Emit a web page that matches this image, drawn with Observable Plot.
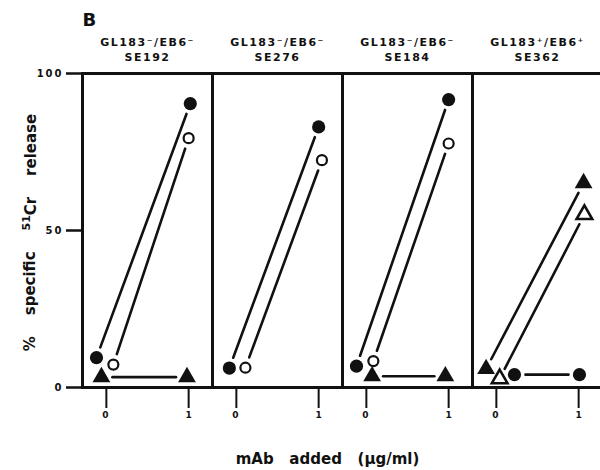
<!DOCTYPE html>
<html>
<head>
<meta charset="utf-8">
<script src="https://cdn.jsdelivr.net/npm/d3@7"></script>
<script src="https://cdn.jsdelivr.net/npm/@observablehq/plot@0.6"></script>
<style>
html, body { margin: 0; padding: 0; background: #fff; overflow: hidden; width: 600px; height: 470px; }
#chart svg { max-width: none !important; }
</style>
</head>
<body>
<div id="chart"></div>
<script>
// ---- data ----
const panelTitle = "B";
const panels = ["SE192", "SE276", "SE184", "SE362"];
const phenotypes = ["GL183⁻/EB6⁻", "GL183⁻/EB6⁻", "GL183⁻/EB6⁻", "GL183⁺/EB6⁺"];
const doseTicks = [0, 1];
const yTicks = [0, 50, 100];
const yLabelParts = ["%\u00a0\u00a0\u00a0\u00a0specific\u00a0\u00a0\u00a0\u00a0", "51", "Cr\u00a0\u00a0\u00a0\u00a0release"];
const xLabel = "mAb\u00a0\u00a0\u00a0added\u00a0\u00a0\u00a0(µg/ml)";

// % specific 51Cr release at mAb 0 and 1 µg/ml, one pair per panel (null = not tested)
const closedCircle   = [[9.5, 90.4], [6.2, 83.0], [6.8, 91.7], [4.1, 4.1]];
const openCircle     = [[7.3, 79.4], [6.3, 72.4], [8.4, 77.7], null];
const closedTriangle = [[3.3, 3.3], null, [3.6, 3.6], [5.9, 65.1]];
const openTriangle   = [null, null, null, [2.8, 55.1]];

// where each point sits along the dose axis as drawn (symbols are nudged apart)
const closedCircleX   = [[-0.12, 1.02], [-0.085, 1.0], [-0.12, 1.0], [0.22, 1.01]];
const openCircleX     = [[0.085, 1.0], [0.11, 1.04], [0.085, 1.0], null];
const closedTriangleX = [[-0.06, 0.98], null, [0.07, 0.96], [-0.125, 1.06]];
const openTriangleX   = [null, null, null, [0.04, 1.07]];

// ---- build tables ----
const seriesDefs = [
  {key: "closed circle", values: closedCircle, xs: closedCircleX},
  {key: "open circle", values: openCircle, xs: openCircleX},
  {key: "closed triangle", values: closedTriangle, xs: closedTriangleX},
  {key: "open triangle", values: openTriangle, xs: openTriangleX}
];
const symbolOf = {"closed circle": "circle", "open circle": "circle", "closed triangle": "triangle", "open triangle": "triangle"};

const points = [];
const segments = [];
for (const s of seriesDefs) {
  panels.forEach((p, i) => {
    const v = s.values[i];
    if (!v) return;
    const xs = s.xs[i];
    points.push({panel: p, series: s.key, x: xs[0], y: v[0]});
    points.push({panel: p, series: s.key, x: xs[1], y: v[1]});
    segments.push({panel: p, series: s.key, x1: xs[0], y1: v[0], x2: xs[1], y2: v[1]});
  });
}

const ink = "#111";
const font = "DejaVu Sans";
const yLabelText = yLabelParts.join("");

const chart = Plot.plot({
  width: 604,
  height: 470,
  marginLeft: 81,
  marginRight: 1,
  marginTop: 73,
  marginBottom: 83,
  style: {fontFamily: font, color: ink, background: "#fff", maxWidth: "none"},
  fx: {domain: panels, axis: null, paddingInner: 0, paddingOuter: 0},
  x: {domain: [-0.29, 1.29]},
  y: {domain: [0, 100]},
  marks: [
    Plot.frame({stroke: ink, strokeWidth: 3}),
    Plot.axisY({ticks: yTicks, tickSize: 16, tickPadding: 3, strokeWidth: 2.5, stroke: ink,
      fontSize: 10, fontWeight: "bold", label: null}),
    Plot.axisX({ticks: doseTicks, tickSize: 21, tickPadding: 3, strokeWidth: 2, stroke: ink,
      fontSize: 9, fontWeight: "bold", label: null, tickFormat: d => String(d)}),
    Plot.arrow(segments, {fx: "panel", x1: "x1", y1: "y1", x2: "x2", y2: "y2",
      headLength: 0, insetStart: 11, insetEnd: 11, stroke: ink, strokeWidth: 2.6}),
    Plot.dot(points.filter(d => d.series.startsWith("closed")), {fx: "panel", x: "x", y: "y",
      symbol: d => symbolOf[d.series], r: 6.6, fill: ink, stroke: "none"}),
    Plot.dot(points.filter(d => d.series === "open circle"), {fx: "panel", x: "x", y: "y",
      symbol: "circle", r: 5, fill: "#fff", stroke: ink, strokeWidth: 2.2}),
    Plot.dot(points.filter(d => d.series === "open triangle"), {fx: "panel", x: "x", y: "y",
      symbol: "triangle", r: 5.8, fill: "#fff", stroke: ink, strokeWidth: 2.6}),
    Plot.text(panels, {fx: d => d, text: (d, i) => phenotypes[i] + "\n" + d,
      frameAnchor: "top", dy: -13, lineAnchor: "bottom", lineHeight: 1.3,
      fontSize: 11, fontWeight: "bold", fill: ink}),
    Plot.text([panelTitle], {fx: () => panels[0], text: d => d, frameAnchor: "top-left",
      textAnchor: "start", lineAnchor: "bottom", dx: 0, dy: -48, fontSize: 18, fontWeight: "bold", fill: ink}),
    Plot.text([yLabelText], {fx: () => panels[0], text: d => d, frameAnchor: "left", rotate: -90,
      dx: -48, dy: 2, lineAnchor: "bottom", textAnchor: "middle", fontSize: 15, fontWeight: "bold", fill: ink}),
    Plot.text([xLabel], {fx: () => panels[1], text: d => d, frameAnchor: "bottom-right",
      dx: -15, dy: 72, lineAnchor: "middle", textAnchor: "middle", fontSize: 15, fontWeight: "bold", fill: ink})
  ]
});
document.getElementById("chart").appendChild(chart);

// typographic touches: spaced header / tick lettering, raised "51" in the y title
const svg = d3.select(chart);
svg.selectAll("text").each(function () {
  const t = this.textContent;
  if (t.includes("GL183") || t.startsWith("SE")) d3.select(this).attr("letter-spacing", "1.5px");
  if (yTicks.map(String).includes(t)) d3.select(this).attr("letter-spacing", "2px");
  if (t === yLabelText) {
    const el = d3.select(this);
    el.text(null);
    el.append("tspan").text(yLabelParts[0]);
    el.append("tspan").attr("font-size", 11).attr("dy", "-0.45em").text(yLabelParts[1]);
    el.append("tspan").attr("dy", "0.45em").text(yLabelParts[2]);
  }
});
</script>
</body>
</html>
